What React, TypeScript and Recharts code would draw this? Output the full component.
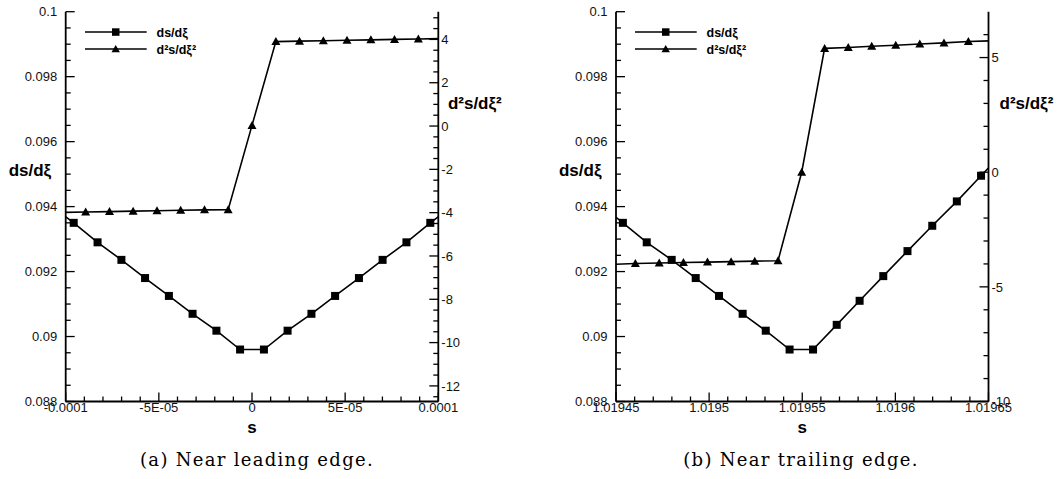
import React from 'react';
import { LineChart, Line, XAxis, YAxis, Legend, Label } from 'recharts';

// ---------- (a) Near leading edge ----------
const leadDsS = [-1.085e-4, -9.57e-5, -8.29e-5, -7.01e-5, -5.74e-5, -4.46e-5, -3.19e-5, -1.91e-5, -6.4e-6, 6.4e-6, 1.91e-5, 3.19e-5, 4.46e-5, 5.74e-5, 7.01e-5, 8.29e-5, 9.57e-5, 1.085e-4];
const leadDsV = [0.09406, 0.0935, 0.0929, 0.09236, 0.0918, 0.09125, 0.0907, 0.09018, 0.0896, 0.0896, 0.09018, 0.0907, 0.09125, 0.0918, 0.09236, 0.0929, 0.0935, 0.09406];
const leadD2S = [-1.02e-4, -8.93e-5, -7.65e-5, -6.38e-5, -5.1e-5, -3.83e-5, -2.55e-5, -1.28e-5, 0, 1.28e-5, 2.55e-5, 3.83e-5, 5.1e-5, 6.38e-5, 7.65e-5, 8.93e-5, 1.02e-4];
const leadD2V = [-3.99, -3.97, -3.95, -3.93, -3.91, -3.89, -3.87, -3.86, 0.03, 3.9, 3.92, 3.94, 3.96, 3.98, 4.0, 4.02, 4.04];

// ---------- (b) Near trailing edge ----------
const trailDsS = [1.019441, 1.0194537, 1.0194665, 1.0194799, 1.0194928, 1.0195053, 1.019518, 1.0195304, 1.0195432, 1.0195558, 1.0195685, 1.0195808, 1.0195935, 1.0196065, 1.0196198, 1.019633, 1.019646, 1.019659];
const trailDsV = [0.0941, 0.0935, 0.0929, 0.09236, 0.0918, 0.09125, 0.0907, 0.09018, 0.0896, 0.0896, 0.09036, 0.0911, 0.09186, 0.09263, 0.09341, 0.09416, 0.09495, 0.09574];
const trailD2S = [1.019447, 1.0194604, 1.0194732, 1.0194862, 1.0194991, 1.0195118, 1.0195245, 1.019537, 1.0195497, 1.019562, 1.0195747, 1.0195873, 1.0196002, 1.0196131, 1.0196261, 1.0196392, 1.019652];
const trailD2V = [-4.02, -3.98, -3.96, -3.94, -3.92, -3.9, -3.88, -3.86, 0.0, 5.4, 5.44, 5.49, 5.54, 5.59, 5.64, 5.7, 5.73];

// ---------- ticks ----------
const leadXMajor = [-1e-4, -5e-5, 0, 5e-5, 1e-4];
const leadXLabels = ['-0.0001', '-5E-05', '0', '5E-05', '0.0001'];
const leadXMinor = [-9e-5, -8e-5, -7e-5, -6e-5, -4e-5, -3e-5, -2e-5, -1e-5, 1e-5, 2e-5, 3e-5, 4e-5, 6e-5, 7e-5, 8e-5, 9e-5];
const trailXMajor = [1.01945, 1.0195, 1.01955, 1.0196, 1.01965];
const trailXLabels = ['1.01945', '1.0195', '1.01955', '1.0196', '1.01965'];
const trailXMinor = [1.01946, 1.01947, 1.01948, 1.01949, 1.01951, 1.01952, 1.01953, 1.01954, 1.01956, 1.01957, 1.01958, 1.01959, 1.01961, 1.01962, 1.01963, 1.01964];
const dsMajor = [0.088, 0.09, 0.092, 0.094, 0.096, 0.098, 0.1];
const dsLabels = ['0.088', '0.09', '0.092', '0.094', '0.096', '0.098', '0.1'];
const dsMinor = [0.0885, 0.089, 0.0895, 0.0905, 0.091, 0.0915, 0.0925, 0.093, 0.0935, 0.0945, 0.095, 0.0955, 0.0965, 0.097, 0.0975, 0.0985, 0.099, 0.0995];
const leadD2Major = [-12, -10, -8, -6, -4, -2, 0, 2, 4];
const leadD2Labels = ['-12', '-10', '-8', '-6', '-4', '-2', '0', '2', '4'];
const leadD2Minor = [-12.5, -11.5, -11, -10.5, -9.5, -9, -8.5, -7.5, -7, -6.5, -5.5, -5, -4.5, -3.5, -3, -2.5, -1.5, -1, -0.5, 0.5, 1, 1.5, 2.5, 3, 3.5, 4.5, 5];
const trailD2Major = [-10, -5, 0, 5];
const trailD2Labels = ['-10', '-5', '0', '5'];
const trailD2Minor = [-9, -8, -7, -6, -4, -3, -2, -1, 1, 2, 3, 4, 6];

const FONT = "'Liberation Sans', Arial, Helvetica, sans-serif";
const SERIF = "'DejaVu Serif', 'Liberation Serif', serif";

type Pt = { s: number; v: number };
const zip = (xs: number[], ys: number[]): Pt[] => xs.map((s, i) => ({ s, v: ys[i] }));

function axisTick(orient: 'left' | 'right' | 'bottom', majors: number[], labels: string[], tol: number) {
  return (props: any) => {
    const { x, y, payload } = props;
    const v = Number(payload?.value);
    const idx = majors.findIndex((m) => Math.abs(m - v) < tol);
    const isMajor = idx >= 0;
    const len = isMajor ? 9 : 5;
    const tf = { fontFamily: FONT, fontSize: 13, fill: '#111' };
    if (orient === 'left') {
      return (
        <g>
          <line x1={x} y1={y} x2={x + len} y2={y} stroke="#000" strokeWidth={1.3} />
          {isMajor && (
            <text x={x - 8.5} y={y} dy="0.36em" textAnchor="end" {...tf}>{labels[idx]}</text>
          )}
        </g>
      );
    }
    if (orient === 'right') {
      return (
        <g>
          <line x1={x - len} y1={y} x2={x} y2={y} stroke="#000" strokeWidth={1.3} />
          {isMajor && (
            <text x={x + 3} y={y} dy="0.36em" textAnchor="start" {...tf}>{labels[idx]}</text>
          )}
        </g>
      );
    }
    return (
      <g>
        <line x1={x} y1={y - len} x2={x} y2={y} stroke="#000" strokeWidth={1.3} />
        {isMajor && (
          <text x={x} y={y + 10.5} textAnchor="middle" {...tf}>{labels[idx]}</text>
        )}
      </g>
    );
  };
}

function squareDot(dom: [number, number]) {
  return (p: any) => {
    const key = `sq-${p.index}`;
    if (p.payload.s < dom[0] || p.payload.s > dom[1]) return <g key={key} />;
    return <rect key={key} x={p.cx - 4} y={p.cy - 4} width={8} height={8} fill="#000" />;
  };
}
function triDot(dom: [number, number]) {
  return (p: any) => {
    const key = `tr-${p.index}`;
    if (p.payload.s < dom[0] || p.payload.s > dom[1]) return <g key={key} />;
    const { cx, cy } = p;
    return <polygon key={key} points={`${cx},${cy - 4.5} ${cx + 4.5},${cy + 3.5} ${cx - 4.5},${cy + 3.5}`} fill="#000" />;
  };
}

const LegendBox = () => (
  <svg width={130} height={34} style={{ display: 'block', overflow: 'visible' }}>
    <line x1={0} x2={61.7} y1={6} y2={6} stroke="#000" strokeWidth={1.6} />
    <rect x={27} y={2.3} width={7.5} height={7.5} fill="#000" />
    <line x1={0} x2={61.7} y1={23} y2={23} stroke="#000" strokeWidth={1.6} />
    <polygon points="30.7,19 34.9,26.2 26.5,26.2" fill="#000" />
    <text x={71.5} y={6} dy="0.36em" fontFamily={FONT} fontWeight="bold" fontSize={12.5} fill="#000">ds/dξ</text>
    <text x={71.5} y={23} dy="0.36em" fontFamily={FONT} fontWeight="bold" fontSize={12.5} fill="#000">d²s/dξ²</text>
  </svg>
);

type PanelProps = {
  left: number;
  yLeftWidth: number;
  yRightWidth: number;
  xDomain: [number, number];
  rDomain: [number, number];
  ds: Pt[];
  d2: Pt[];
  xMajor: number[];
  xLabels: string[];
  xMinor: number[];
  xTol: number;
  rMajor: number[];
  rLabels: string[];
  rMinor: number[];
  rLabelGap: number;
};

function Panel(pp: PanelProps) {
  const xTicks = [...pp.xMajor, ...pp.xMinor].sort((a, b) => a - b);
  const lTicks = [...dsMajor, ...dsMinor].sort((a, b) => a - b);
  const rTicks = [...pp.rMajor, ...pp.rMinor].sort((a, b) => a - b);
  const lblStyle = { fontFamily: FONT, fontWeight: 'bold' as const, fontSize: 17, fill: '#000' };
  return (
    <div style={{ position: 'absolute', left: pp.left, top: 0 }}>
      <LineChart width={529} height={479} margin={{ top: 11.7, right: 0, bottom: 47.5, left: 0 }}>
        <XAxis
          type="number"
          dataKey="s"
          domain={pp.xDomain}
          allowDataOverflow
          ticks={xTicks}
          interval={0}
          tickLine={false}
          tickSize={0}
          tickMargin={0}
          height={30}
          axisLine={{ stroke: '#000', strokeWidth: 1.8 }}
          tick={axisTick('bottom', pp.xMajor, pp.xLabels, pp.xTol)}
        >
          <Label
            content={(p: any) => {
              const vb = p.viewBox || {};
              return (
                <text x={vb.x + vb.width / 2} y={vb.y + 31.5} textAnchor="middle" {...lblStyle}>s</text>
              );
            }}
          />
        </XAxis>
        <YAxis
          yAxisId="L"
          type="number"
          orientation="left"
          domain={[0.088, 0.1]}
          allowDataOverflow
          ticks={lTicks}
          interval={0}
          tickLine={false}
          tickSize={0}
          tickMargin={0}
          width={pp.yLeftWidth}
          axisLine={{ stroke: '#000', strokeWidth: 1.8 }}
          tick={axisTick('left', dsMajor, dsLabels, 1e-7)}
        >
          <Label
            content={(p: any) => {
              const vb = p.viewBox || {};
              return (
                <text x={vb.x + vb.width - 14.5} y={vb.y + 164.5} textAnchor="end" {...lblStyle}>ds/dξ</text>
              );
            }}
          />
        </YAxis>
        <YAxis
          yAxisId="R"
          type="number"
          orientation="right"
          domain={pp.rDomain}
          allowDataOverflow
          ticks={rTicks}
          interval={0}
          tickLine={false}
          tickSize={0}
          tickMargin={0}
          width={pp.yRightWidth}
          axisLine={{ stroke: '#000', strokeWidth: 1.8 }}
          tick={axisTick('right', pp.rMajor, pp.rLabels, 1e-6)}
        >
          <Label
            content={(p: any) => {
              const vb = p.viewBox || {};
              return (
                <text x={vb.x + pp.rLabelGap} y={vb.y + 97} textAnchor="start" {...lblStyle}>d²s/dξ²</text>
              );
            }}
          />
        </YAxis>
        <Legend
          layout="vertical"
          align="center"
          verticalAlign="middle"
          wrapperStyle={{ left: pp.yLeftWidth + 19.3, top: 25.7, width: 130, height: 34 }}
          content={() => <LegendBox />}
        />
        <Line
          yAxisId="L"
          data={pp.ds}
          dataKey="v"
          name="ds/dξ"
          type="linear"
          stroke="#000"
          strokeWidth={1.6}
          dot={squareDot(pp.xDomain)}
          activeDot={false}
          isAnimationActive={false}
        />
        <Line
          yAxisId="R"
          data={pp.d2}
          dataKey="v"
          name="d²s/dξ²"
          type="linear"
          stroke="#000"
          strokeWidth={1.6}
          dot={triDot(pp.xDomain)}
          activeDot={false}
          isAnimationActive={false}
        />
      </LineChart>
    </div>
  );
}

export default function App() {
  return (
    <div style={{ position: 'absolute', left: 0, top: 0, width: 1058, height: 479, background: '#fff', overflow: 'hidden' }}>
      <Panel
        left={0}
        yLeftWidth={65.7}
        yRightWidth={90.7}
        xDomain={[-1e-4, 1e-4]}
        rDomain={[-12.72, 5.28]}
        ds={zip(leadDsS, leadDsV)}
        d2={zip(leadD2S, leadD2V)}
        xMajor={leadXMajor}
        xLabels={leadXLabels}
        xMinor={leadXMinor}
        xTol={1e-9}
        rMajor={leadD2Major}
        rLabels={leadD2Labels}
        rMinor={leadD2Minor}
        rLabelGap={9.6}
      />
      <Panel
        left={529}
        yLeftWidth={87}
        yRightWidth={69.5}
        xDomain={[1.01945, 1.01965]}
        rDomain={[-10, 7]}
        ds={zip(trailDsS, trailDsV)}
        d2={zip(trailD2S, trailD2V)}
        xMajor={trailXMajor}
        xLabels={trailXLabels}
        xMinor={trailXMinor}
        xTol={1e-9}
        rMajor={trailD2Major}
        rLabels={trailD2Labels}
        rMinor={trailD2Minor}
        rLabelGap={11}
      />
      <svg width={1058} height={479} style={{ position: 'absolute', left: 0, top: 0, pointerEvents: 'none' }}>
        <text x={257} y={466} textAnchor="middle" fontFamily={SERIF} fontSize={18} letterSpacing={1.3} fill="#000">(a)  Near leading edge.</text>
        <text x={801} y={466} textAnchor="middle" fontFamily={SERIF} fontSize={18} letterSpacing={1.3} fill="#000">(b)  Near trailing edge.</text>
      </svg>
    </div>
  );
}
